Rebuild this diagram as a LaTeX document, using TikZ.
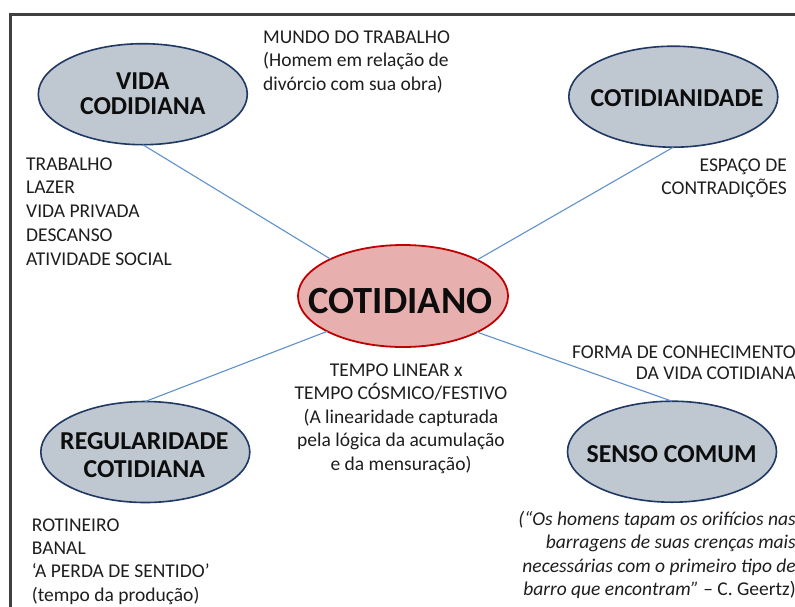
\documentclass[tikz,border=0pt]{standalone}
\usepackage{fontspec}
\setmainfont{Carlito}
\usetikzlibrary{shapes.geometric}
\definecolor{ellfill}{RGB}{191,199,209}
\definecolor{ellborder}{RGB}{31,56,100}
\definecolor{cenfill}{RGB}{232,175,175}
\definecolor{cenborder}{RGB}{192,0,0}
\definecolor{linkcol}{RGB}{95,145,205}
\definecolor{framecol}{RGB}{64,64,64}
\definecolor{txtcol}{RGB}{30,30,30}
\tikzset{
  sat/.style={ellipse, draw=ellborder, line width=1.6pt, fill=ellfill, minimum width=209pt, minimum height=101pt, inner sep=0pt, outer sep=0pt},
  cen/.style={ellipse, draw=cenborder, line width=1.8pt, fill=cenfill, minimum width=210pt, minimum height=102pt, inner sep=0pt, outer sep=0pt},
  ellabel/.style={inner sep=0pt, anchor=base, text=black!95, font=\fontsize{25.8}{25}\selectfont\bfseries},
  small/.style={inner sep=0pt, text=txtcol, font=\fontsize{19.5}{23.5}\selectfont},
  link/.style={draw=linkcol, line width=1.1pt}
}
\begin{document}
\begin{tikzpicture}[x=1pt,y=-1pt]
\useasboundingbox (0,0) rectangle (795,606);
\fill[white] (0,0) rectangle (795,606);
% frame
\draw[framecol, line width=3pt] (10,612) -- (10,14.3) -- (800,14.3);

% ellipses
\node[sat] (vida) at (142.8,94.2) {};
\node[sat] (cotid) at (673.3,96.7) {};
\node[cen] (cen) at (403,296) {};
\node[sat] (regul) at (145.3,452) {};
\node[sat] (senso) at (672,451.7) {};

% connectors
\draw[link] (vida.south) -- (cen.153.8);
\draw[link] (cotid.south) -- (cen.26.6);
\draw[link] (regul.north) -- (cen.205.5);
\draw[link] (senso.north) -- (cen.334.6);

% ellipse labels
\node[ellabel] (vidaT) at (142.8,89.3) {\begin{tabular}[t]{@{}c@{}}VIDA\\CODIDIANA\end{tabular}};
\node[ellabel] (cotidT) at (677,106) {COTIDIANIDADE};
\node[ellabel, font=\fontsize{38.5}{40}\selectfont\bfseries] (cenT) at (400.5,313) {COTIDIANO};
\node[ellabel, font=\fontsize{25.8}{28.3}\selectfont\bfseries] (regulT) at (144.3,449) {\begin{tabular}[t]{@{}c@{}}REGULARIDADE\\COTIDIANA\end{tabular}};
\node[ellabel] (sensoT) at (671.7,462.3) {SENSO COMUM};

% texts
\node[small, anchor=base west] (mundo) at (263,43) {\begin{tabular}[t]{@{}l@{}}MUNDO DO TRABALHO\\(Homem em relação de\\divórcio com sua obra)\end{tabular}};
\node[small, anchor=base west, font=\fontsize{19.5}{23.9}\selectfont] (lista) at (26,170) {\begin{tabular}[t]{@{}l@{}}TRABALHO\\LAZER\\VIDA PRIVADA\\DESCANSO\\ATIVIDADE SOCIAL\end{tabular}};
\node[small, anchor=base east, font=\fontsize{19.5}{22.5}\selectfont] (espaco) at (787,171.7) {\begin{tabular}[t]{@{}r@{}}ESPAÇO DE\\CONTRADIÇÕES\end{tabular}};
\node[small, anchor=base east, font=\fontsize{19.5}{21.5}\selectfont] (forma) at (796,358) {\begin{tabular}[t]{@{}r@{}}FORMA DE CONHECIMENTO\\DA VIDA COTIDIANA\end{tabular}};
\node[small, anchor=base] (tempo) at (401,376) {\begin{tabular}[t]{@{}c@{}}TEMPO LINEAR x\hspace*{9.6pt}\\TEMPO CÓSMICO/FESTIVO\\(A linearidade capturada\\pela lógica da acumulação\\e da mensuração)\end{tabular}};
\node[small, anchor=base west, font=\fontsize{19.5}{23.4}\selectfont] (rotin) at (31.7,531) {\begin{tabular}[t]{@{}l@{}}ROTINEIRO\\BANAL\\‘A PERDA DE SENTIDO’\\(tempo da produção)\end{tabular}};
\node[small, anchor=base east, font=\fontsize{19.5}{23.3}\selectfont] (quote) at (796,525.5) {\begin{tabular}[t]{@{}r@{}}\itshape (“Os homens tapam os orifícios nas\\\itshape barragens de suas crenças mais\\\itshape necessárias com o primeiro tipo de\\\itshape barro que encontram” \upshape – C. Geertz)\end{tabular}};
\end{tikzpicture}
\end{document}
